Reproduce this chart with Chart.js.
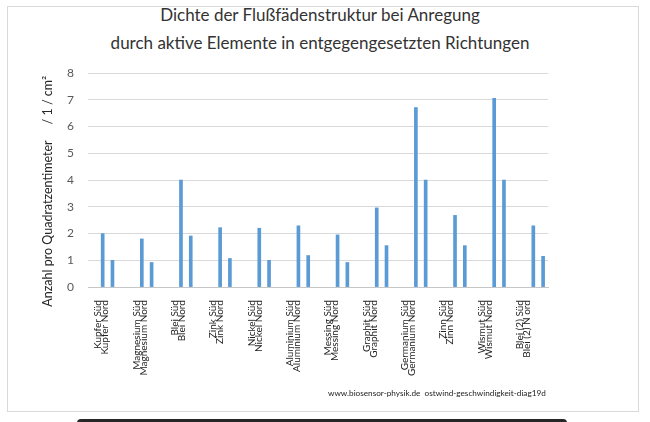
<!DOCTYPE html>
<html>
<head>
<meta charset="utf-8">
<script src="https://cdn.jsdelivr.net/npm/chart.js@4.4.1/dist/chart.umd.min.js"></script>
<style>
  body { margin: 0; background: #fff; }
  #frame { position: absolute; left: 7px; top: 6px; width: 630px; height: 404px; border: 1px solid #d9d9d9; }
  #wrap { position: absolute; left: 0; top: 0; width: 650px; height: 422px; }
  #title { position: absolute; left: 0; top: 1px; width: 640px; text-align: center;
           font: 17px Lato, sans-serif; line-height: 28px; color: #333; }
  #mark { position: absolute; left: 328px; top: 388px; font: 8.2px Lato, sans-serif; color: #222; white-space: pre; }
  #bar { position: absolute; left: 77px; top: 419px; width: 490px; height: 10px; background: #262626; border-radius: 4px; }
</style>
</head>
<body>
<div id="frame"></div>
<div id="title">Dichte der Flußfädenstruktur bei Anregung<br>durch aktive Elemente in entgegengesetzten Richtungen</div>
<div id="wrap"><canvas id="chart"></canvas></div>
<div id="mark">www.biosensor-physik.de  ostwind-geschwindigkeit-diag19d</div>
<div id="bar"></div>
<script>
const labelsSued = ['Kupfer Süd', 'Magnesium Süd', 'Blei Süd', 'Zink Süd', 'Nickel Süd', 'Aluminium Süd',
  'Messing Süd', 'Graphit Süd', 'Germanium Süd', 'Zinn Süd', 'Wismut Süd', 'Blei (2) Süd'];
const labelsNord = ['Kupfer Nord', 'Magnesium Nord', 'Blei Nord', 'Zink Nord', 'Nickel Nord', 'Aluminium Nord',
  'Messing Nord', 'Graphit Nord', 'Germanium Nord', 'Zinn Nord', 'Wismut Nord', 'Blei (2) N ord'];
const sued = [2.0, 1.8, 4.0, 2.22, 2.2, 2.29, 1.95, 2.96, 6.71, 2.68, 7.05, 2.29];
const nord = [1.0, 0.92, 1.91, 1.07, 1.0, 1.18, 0.92, 1.55, 4.0, 1.55, 4.0, 1.15];
const yTicks = [0, 1, 2, 3, 4, 5, 6, 7, 8];

// each pair sits in 4 slots (blank before, Süd, Nord, blank after)
const slots = 47;
const slotLabels = [];
const suedData = [];
const nordData = [];
for (let i = 0; i < slots; i++) {
  slotLabels.push('');
  suedData.push(null);
  nordData.push(null);
}
sued.forEach((v, i) => { suedData[1 + 4 * i] = v; });
nord.forEach((v, i) => { nordData[2 + 4 * i] = v; });

const groupLabels = labelsSued.map((s, i) => [s, labelsNord[i]]);

Chart.defaults.font.family = 'Lato, sans-serif';

new Chart(document.getElementById('chart'), {
  type: 'bar',
  data: {
    labels: slotLabels,
    datasets: [
      { label: 'Süd', data: suedData, backgroundColor: '#5b9bd5', barThickness: 3, grouped: false },
      { label: 'Nord', data: nordData, backgroundColor: '#5b9bd5', barThickness: 3, grouped: false }
    ]
  },
  options: {
    responsive: true,
    maintainAspectRatio: false,
    animation: false,
    layout: { padding: { left: 36, right: 102, top: 73, bottom: 41 } },
    plugins: { legend: { display: false }, tooltip: { enabled: false } },
    scales: {
      x: {
        grid: { display: false },
        border: { display: true, color: '#c6c6c6' },
        ticks: { display: false }
      },
      x2: {
        type: 'category',
        position: 'bottom',
        labels: groupLabels,
        grid: { display: false, drawTicks: false },
        border: { display: false },
        ticks: {
          minRotation: 90, maxRotation: 90, autoSkip: false, padding: 5,
          labelOffset: -9, color: '#222',
          font: { size: 10, lineHeight: 0.7 }
        }
      },
      y: {
        min: 0, max: 8,
        afterBuildTicks: (s) => { s.ticks = yTicks.map(v => ({ value: v })); },
        afterFit: (s) => { s.width = 52; },
        grid: { color: '#d9d9d9', drawTicks: false },
        border: { display: false },
        ticks: { padding: 14, color: '#595959', font: { size: 12 } },
        title: {
          display: true,
          text: 'Anzahl pro Quadratzentimeter     / 1 / cm²\u00a0\u00a0\u00a0\u00a0\u00a0\u00a0\u00a0',
          color: '#262626',
          font: { size: 12.5 },
          padding: { top: 4, bottom: 10 }
        }
      }
    }
  }
});
</script>
</body>
</html>
